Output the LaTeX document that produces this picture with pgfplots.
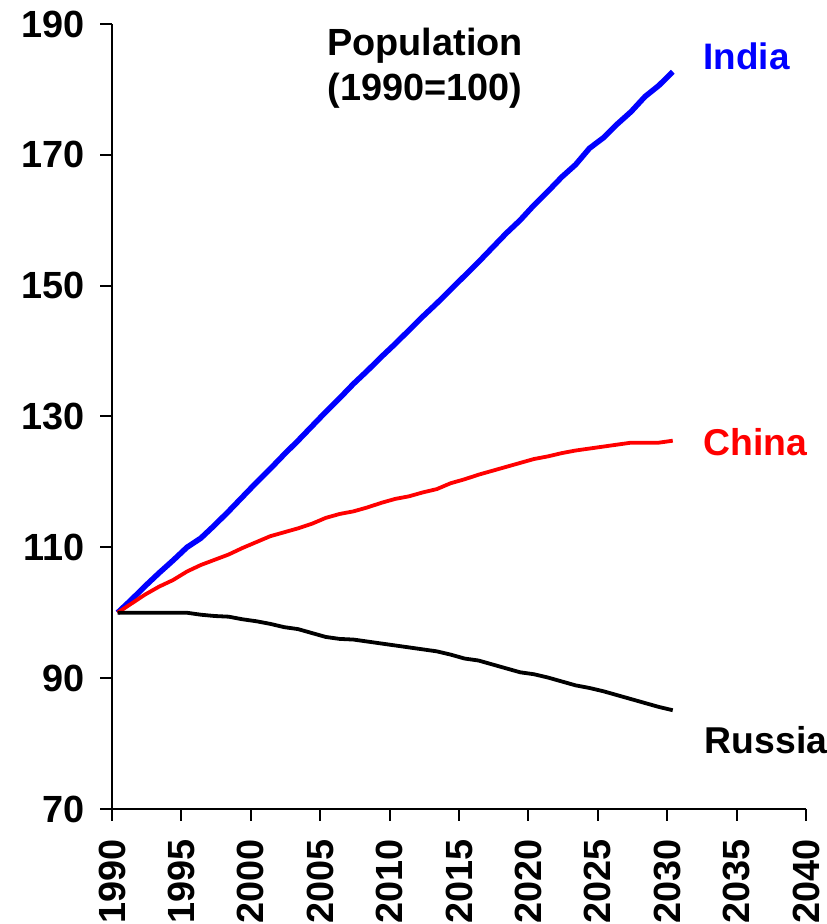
\documentclass[border=0pt]{standalone}
\usepackage{fontspec}
\setmainfont{Liberation Sans}
\usepackage{pgfplots}
\pgfplotsset{compat=1.18}

\begin{document}
\begin{tikzpicture}
\begin{axis}[
  name=ax,
  width=694bp, height=785bp, scale only axis,
  xmin=1990, xmax=2040, ymin=70, ymax=190,
  axis x line=bottom, axis y line=left,
  axis line style={-, line width=2bp},
  tick style={line width=2bp, black},
  tick align=outside, major tick length=12bp,
  xtick={1990,1995,...,2040},
  ytick={70,90,...,190},
  /pgf/number format/assume math mode=true,
  /pgf/number format/1000 sep={},
  ticklabel style={font=\fontsize{38}{40}\selectfont\bfseries},
  x tick label style={rotate=90, anchor=east},
  xticklabel shift=15bp,
  yticklabel shift=12bp,
  clip=false,
]
% India
\addplot[line width=5.5bp, color={rgb,255:red,0;green,0;blue,255}] coordinates {
(1990.4,100.0)(1991.4,102.0)(1992.4,104.1)(1993.4,106.1)(1994.4,108.0)
(1995.4,110.0)(1996.4,111.4)(1997.4,113.4)(1998.4,115.5)(1999.4,117.7)
(2000.4,119.9)(2001.4,122.0)(2002.4,124.2)(2003.4,126.3)(2004.4,128.5)
(2005.4,130.7)(2006.4,132.8)(2007.4,135.0)(2008.4,137.0)(2009.4,139.1)
(2010.4,141.1)(2011.4,143.2)(2012.4,145.3)(2013.4,147.3)(2014.4,149.4)
(2015.4,151.5)(2016.4,153.6)(2017.4,155.8)(2018.4,158.0)(2019.4,160.0)
(2020.4,162.3)(2021.4,164.4)(2022.4,166.6)(2023.4,168.5)(2024.4,171.0)
(2025.4,172.6)(2026.4,174.7)(2027.4,176.6)(2028.4,178.9)(2029.4,180.6)
(2030.4,182.7)};
% China
\addplot[line width=3.8bp, color={rgb,255:red,255;green,0;blue,0}] coordinates {
(1990.4,100.0)(1991.4,101.4)(1992.4,102.8)(1993.4,104.0)(1994.4,105.0)
(1995.4,106.3)(1996.4,107.3)(1997.4,108.1)(1998.4,108.9)(1999.4,109.9)
(2000.4,110.8)(2001.4,111.7)(2002.4,112.3)(2003.4,112.9)(2004.4,113.6)
(2005.4,114.5)(2006.4,115.1)(2007.4,115.5)(2008.4,116.1)(2009.4,116.8)
(2010.4,117.4)(2011.4,117.8)(2012.4,118.4)(2013.4,118.9)(2014.4,119.8)
(2015.4,120.4)(2016.4,121.1)(2017.4,121.7)(2018.4,122.3)(2019.4,122.9)
(2020.4,123.5)(2021.4,123.9)(2022.4,124.4)(2023.4,124.8)(2024.4,125.1)
(2025.4,125.4)(2026.4,125.7)(2027.4,126.0)(2028.4,126.0)(2029.4,126.0)
(2030.4,126.3)};
% Russia
\addplot[line width=3.8bp, black] coordinates {
(1990.4,100.0)(1991.4,100.0)(1992.4,100.0)(1993.4,100.0)(1994.4,100.0)
(1995.4,100.0)(1996.4,99.7)(1997.4,99.5)(1998.4,99.4)(1999.4,99.0)
(2000.4,98.7)(2001.4,98.3)(2002.4,97.8)(2003.4,97.5)(2004.4,96.9)
(2005.4,96.3)(2006.4,96.0)(2007.4,95.9)(2008.4,95.6)(2009.4,95.3)
(2010.4,95.0)(2011.4,94.7)(2012.4,94.4)(2013.4,94.1)(2014.4,93.6)
(2015.4,93.0)(2016.4,92.7)(2017.4,92.1)(2018.4,91.5)(2019.4,90.9)
(2020.4,90.6)(2021.4,90.1)(2022.4,89.5)(2023.4,88.9)(2024.4,88.5)
(2025.4,88.0)(2026.4,87.4)(2027.4,86.8)(2028.4,86.2)(2029.4,85.6)
(2030.4,85.1)};

\node[align=center, inner sep=0pt, font=\fontsize{38}{45}\selectfont\bfseries]
  at (axis cs:2012.55,183.3) {Population\\(1990=100)};
\node[anchor=west, inner sep=0pt, font=\fontsize{37}{40}\selectfont\bfseries,
  text={rgb,255:red,0;green,0;blue,255}] at (axis cs:2032.6,185.1) {India};
\node[anchor=west, inner sep=0pt, font=\fontsize{37.5}{40}\selectfont\bfseries,
  text={rgb,255:red,255;green,0;blue,0}] at (axis cs:2032.6,126.1) {China};
\node[anchor=west, inner sep=0pt, font=\fontsize{37.5}{40}\selectfont\bfseries,
  text=black] at (axis cs:2032.7,80.5) {Russia};
\end{axis}
% page frame: the year labels run off the lower edge
\pgfresetboundingbox
\path (ax.south west) ++(-112bp,-115bp) rectangle ++(827bp,924bp);
\end{tikzpicture}
\end{document}
